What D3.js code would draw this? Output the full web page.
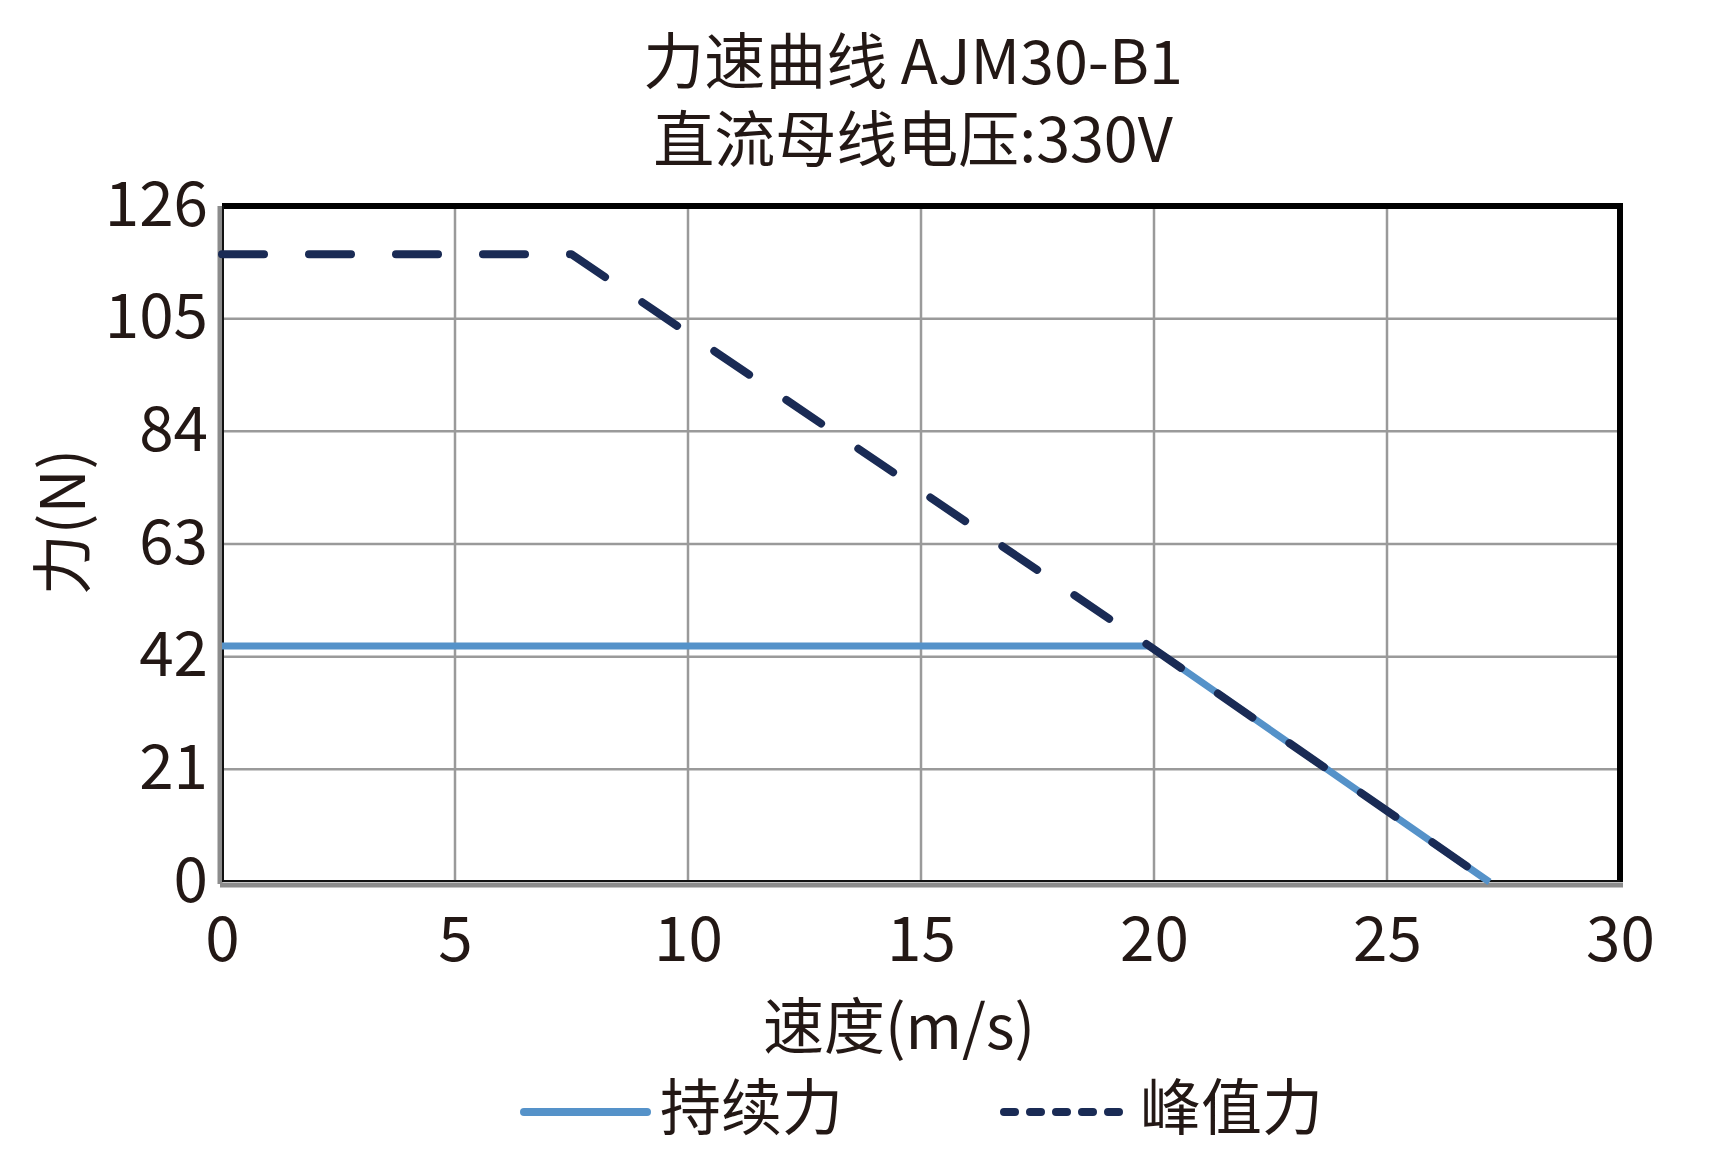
<!DOCTYPE html>
<html>
<head>
<meta charset="utf-8">
<script src="https://cdn.jsdelivr.net/npm/d3@7"></script>
<style>
  body { margin: 0; background: #fff; }
  text { font-family: "Noto Sans CJK SC", "Noto Sans", sans-serif; fill: #231815; }
</style>
</head>
<body>
<div id="chart"></div>
<script>
// values
const titleLines = ["力速曲线 AJM30-B1", "直流母线电压:330V"];
const xTicks = [0, 5, 10, 15, 20, 25, 30];
const yTicks = [0, 21, 42, 63, 84, 105, 126];
const speedCont = [0, 19.9, 27.2];
const forceCont = [44, 44, 0];
const speedPeak = [0, 7.5, 19.9, 27.2];
const forcePeak = [117, 117, 44, 0];
const seriesNames = ["持续力", "峰值力"];

const W = 1728, H = 1164;
const m = { left: 222, right: 1620, top: 206, bottom: 882 };
const blue = "#5592c9", navy = "#1a2b55", grid = "#9a9a9a";

const svg = d3.select("#chart").append("svg")
  .attr("width", W).attr("height", H);

const x = d3.scaleLinear().domain([0, 30]).range([m.left, m.right]);
const y = d3.scaleLinear().domain([0, 126]).range([m.bottom, m.top]);

// grid
svg.append("g").selectAll("line")
  .data(xTicks.slice(1, -1)).enter().append("line")
  .attr("x1", d => x(d)).attr("x2", d => x(d))
  .attr("y1", m.top).attr("y2", m.bottom)
  .attr("stroke", grid).attr("stroke-width", 2.5);
svg.append("g").selectAll("line")
  .data(yTicks.slice(1, -1)).enter().append("line")
  .attr("x1", m.left).attr("x2", m.right)
  .attr("y1", d => y(d)).attr("y2", d => y(d))
  .attr("stroke", grid).attr("stroke-width", 2.5);

// frame: black top/right, grey-black left/bottom
svg.append("path")
  .attr("d", `M${m.left},${m.top}H${m.right}V${m.bottom}`)
  .attr("fill", "none").attr("stroke", "#000").attr("stroke-width", 6);
svg.append("line")
  .attr("x1", m.left - 2).attr("x2", m.left - 2).attr("y1", m.top).attr("y2", m.bottom + 2)
  .attr("stroke", "#8c8c8c").attr("stroke-width", 5);
svg.append("line")
  .attr("x1", m.left - 2).attr("x2", m.right + 3).attr("y1", m.bottom + 3).attr("y2", m.bottom + 3)
  .attr("stroke", "#8c8c8c").attr("stroke-width", 5);
svg.append("path")
  .attr("d", `M${m.left + 1},${m.top}V${m.bottom - 1}H${m.right}`)
  .attr("fill", "none").attr("stroke", "#111").attr("stroke-width", 2);

// axes labels
const yAxis = d3.axisLeft(y).tickValues(yTicks).tickSize(0).tickPadding(14);
const gy = svg.append("g").attr("transform", `translate(${m.left},0)`).call(yAxis);
gy.select(".domain").remove();
gy.selectAll("text")
  .attr("font-size", 62).attr("dy", null)
  .attr("dominant-baseline", "central").attr("y", -8);

const xAxis = d3.axisBottom(x).tickValues(xTicks).tickSize(0);
const gx = svg.append("g").attr("transform", `translate(0,${m.bottom})`).call(xAxis);
gx.select(".domain").remove();
gx.selectAll("text")
  .attr("font-size", 62).attr("dy", null)
  .attr("dominant-baseline", "central").attr("y", 52);
svg.selectAll(".tick text").style("fill", "#231815").style("font-family", '"Noto Sans CJK SC", sans-serif');

// series
const contPts = speedCont.map((s, i) => [s, forceCont[i]]);
const peakPts = speedPeak.map((s, i) => [s, forcePeak[i]]);
const line = d3.line().x(d => x(d[0])).y(d => y(d[1]));

svg.append("path").datum(contPts)
  .attr("d", line).attr("fill", "none")
  .attr("stroke", blue).attr("stroke-width", 7).attr("stroke-linejoin", "round");
svg.append("path").datum(peakPts)
  .attr("d", line).attr("fill", "none")
  .attr("stroke", navy).attr("stroke-width", 8)
  .attr("stroke-linecap", "round").attr("stroke-linejoin", "round")
  .attr("stroke-dasharray", "42,45");

// titles
svg.append("g").selectAll("text").data(titleLines).enter().append("text")
  .attr("x", 913).attr("y", (d, i) => 57 + i * 78)
  .attr("text-anchor", "middle").attr("dominant-baseline", "central")
  .attr("font-size", 61).text(d => d);

svg.append("text")
  .attr("x", 899).attr("y", 1022)
  .attr("text-anchor", "middle").attr("dominant-baseline", "central")
  .attr("font-size", 61).text("速度(m/s)");

svg.append("text")
  .attr("transform", "translate(58,522) rotate(-90)")
  .attr("text-anchor", "middle").attr("dominant-baseline", "central")
  .attr("font-size", 61).text("力(N)");

// legend
const legend = [
  { name: seriesNames[0], color: blue, dash: null, x0: 520 },
  { name: seriesNames[1], color: navy, dash: "11,15", x0: 1000 }
];
const lg = svg.append("g").selectAll("g").data(legend).enter().append("g");
lg.append("line")
  .attr("x1", d => d.x0 + 4).attr("x2", d => d.x0 + 127)
  .attr("y1", 1112).attr("y2", 1112)
  .attr("stroke", d => d.color).attr("stroke-width", 8)
  .attr("stroke-linecap", "round")
  .attr("stroke-dasharray", d => d.dash);
lg.append("text")
  .attr("x", d => d.x0 + 140).attr("y", 1103)
  .attr("dominant-baseline", "central")
  .attr("font-size", 61).text(d => d.name);
</script>
</body>
</html>
